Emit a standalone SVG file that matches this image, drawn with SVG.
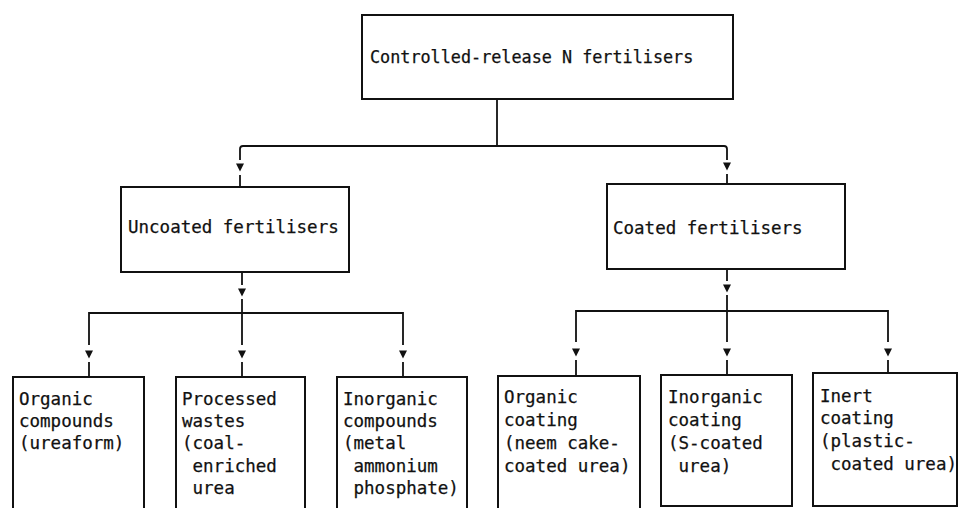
<svg xmlns="http://www.w3.org/2000/svg" width="960" height="508" viewBox="0 0 960 508">
<style>
.box{fill:#fff;stroke:#111;stroke-width:2}
.t{font-family:"DejaVu Sans Mono","Liberation Mono",monospace;font-size:17.5px;fill:#111;stroke:#111;stroke-width:0.25}
.tt{font-size:16.8px}
.c{fill:none;stroke:#111;stroke-width:1.8}
.ah{fill:#111}
</style>
<defs>
<path id="ah" d="M-4,-4.5 L4,-4.5 L0,3.5 Z"/>
</defs>
<rect width="960" height="508" fill="#fff"/>
<g id="connectors">
<path class="c" d="M497,99 V146"/>
<path class="c" d="M240,160 V149 Q240,146 243,146 H724 Q727,146 727,149 V160"/>
<use href="#ah" class="ah" x="240" y="168"/>
<path class="c" d="M240,175 V187"/>
<use href="#ah" class="ah" x="727" y="167"/>
<path class="c" d="M727,174 V184"/>
<path class="c" d="M242,272 V285"/>
<use href="#ah" class="ah" x="242" y="293"/>
<path class="c" d="M242,299 V313"/>
<path class="c" d="M89,345 V313 H403 V345 M242,313 V345"/>
<use href="#ah" class="ah" x="89" y="355"/>
<use href="#ah" class="ah" x="242" y="355"/>
<use href="#ah" class="ah" x="403" y="355"/>
<path class="c" d="M89,362 V377 M242,362 V377 M403,362 V377"/>
<path class="c" d="M727,269 V281"/>
<use href="#ah" class="ah" x="727" y="289"/>
<path class="c" d="M727,295 V311"/>
<path class="c" d="M576,342 V311 H888 V342 M727,311 V342"/>
<use href="#ah" class="ah" x="576" y="353"/>
<use href="#ah" class="ah" x="727" y="353"/>
<use href="#ah" class="ah" x="888" y="353"/>
<path class="c" d="M576,360 V376 M727,360 V375 M888,360 V373"/>
</g>
<g id="root">
<rect class="box" x="362" y="15" width="371" height="84"/>
<text class="t tt" x="370" y="63">Controlled-release N fertilisers</text>
</g>
<g id="uncoated">
<rect class="box" x="121" y="187" width="228" height="85"/>
<text class="t" x="128" y="233">Uncoated fertilisers</text>
</g>
<g id="coated">
<rect class="box" x="607" y="184" width="238" height="85"/>
<text class="t" x="613" y="234">Coated fertilisers</text>
</g>
<g id="organic-compounds">
<rect class="box" x="13" y="377" width="131" height="134"/>
<text class="t" x="19" y="405">Organic</text>
<text class="t" x="19" y="427">compounds</text>
<text class="t" x="19" y="449">(ureaform)</text>
</g>
<g id="processed-wastes">
<rect class="box" x="176" y="377" width="129" height="134"/>
<text class="t" x="182" y="405">Processed</text>
<text class="t" x="182" y="427">wastes</text>
<text class="t" x="182" y="449">(coal-</text>
<text class="t" x="182" y="472" xml:space="preserve"> enriched</text>
<text class="t" x="182" y="494" xml:space="preserve"> urea</text>
</g>
<g id="inorganic-compounds">
<rect class="box" x="337" y="377" width="130" height="134"/>
<text class="t" x="343" y="405">Inorganic</text>
<text class="t" x="343" y="427">compounds</text>
<text class="t" x="343" y="449">(metal</text>
<text class="t" x="343" y="472" xml:space="preserve"> ammonium</text>
<text class="t" x="343" y="494" xml:space="preserve"> phosphate)</text>
</g>
<g id="organic-coating">
<rect class="box" x="498" y="376" width="142" height="135"/>
<text class="t" x="504" y="403">Organic</text>
<text class="t" x="504" y="426">coating</text>
<text class="t" x="504" y="449">(neem cake-</text>
<text class="t" x="504" y="472">coated urea)</text>
</g>
<g id="inorganic-coating">
<rect class="box" x="661" y="375" width="131" height="131"/>
<text class="t" x="668" y="403">Inorganic</text>
<text class="t" x="668" y="426">coating</text>
<text class="t" x="668" y="449">(S-coated</text>
<text class="t" x="668" y="472" xml:space="preserve"> urea)</text>
</g>
<g id="inert-coating">
<rect class="box" x="813" y="373" width="144" height="133"/>
<text class="t" x="820" y="402">Inert</text>
<text class="t" x="820" y="424">coating</text>
<text class="t" x="820" y="447">(plastic-</text>
<text class="t" x="820" y="470" xml:space="preserve"> coated urea)</text>
</g>
</svg>
